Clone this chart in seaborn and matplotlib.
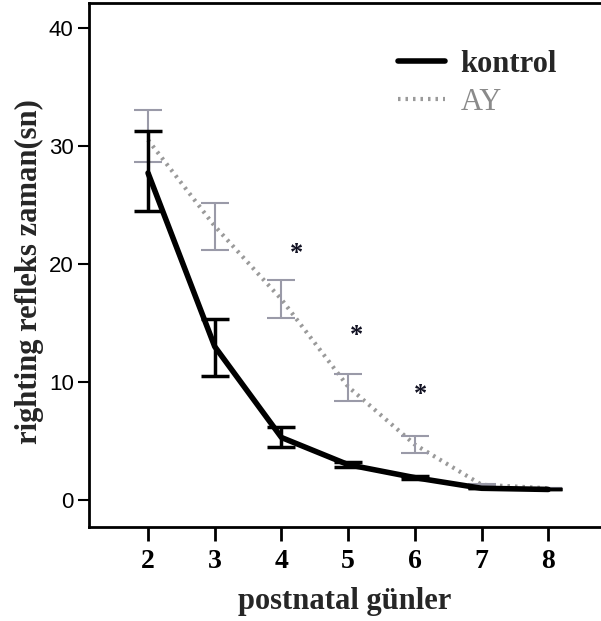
import numpy as np
import pandas as pd
import matplotlib
matplotlib.use("Agg")
import matplotlib.pyplot as plt
import seaborn as sns
from matplotlib.lines import Line2D

days = [2, 3, 4, 5, 6, 7, 8]
kontrol_mean = [27.7, 13.0, 5.3, 3.0, 1.9, 1.0, 0.9]
kontrol_low = [24.5, 10.5, 4.5, 2.8, 1.8, 1.0, 0.9]
kontrol_high = [31.3, 15.3, 6.2, 3.2, 2.0, 1.0, 0.9]
ay_mean = [30.5, 23.2, 17.0, 9.6, 4.7, 1.3, 1.0]
ay_low = [28.6, 21.2, 15.4, 8.4, 4.0, 1.2, 1.0]
ay_high = [33.0, 25.2, 18.6, 10.7, 5.4, 1.4, 1.0]
star_x = [4.22, 5.13, 6.09]
star_y = [20.9, 13.9, 8.9]
yticks = [0, 10, 20, 30, 40]
group_names = ["kontrol", "AY"]

sns.set_style("ticks")

df = pd.DataFrame({
    "gun": days * 2,
    "sure": kontrol_mean + ay_mean,
    "grup": [group_names[0]] * len(days) + [group_names[1]] * len(days),
})

fig = plt.figure(figsize=(6.01, 6.21), dpi=100)
ax = fig.add_axes([89 / 601, 94 / 621, 1 - 89 / 601, (527 - 3) / 621])

sns.lineplot(data=df[df.grup == "AY"], x="gun", y="sure", ax=ax,
             color="#9a9a9a", linewidth=3, linestyle=(0, (0.6, 1.2)),
             legend=False, zorder=2)
sns.lineplot(data=df[df.grup == "kontrol"], x="gun", y="sure", ax=ax,
             color="black", linewidth=4, legend=False, zorder=3)

ay_m = np.array(ay_mean)
ax.errorbar(days, ay_m, yerr=[ay_m - np.array(ay_low), np.array(ay_high) - ay_m],
            fmt="none", ecolor="#9a9aa8", elinewidth=1.5, capsize=10, capthick=1.5, zorder=2)
k_m = np.array(kontrol_mean)
ax.errorbar(days, k_m, yerr=[k_m - np.array(kontrol_low), np.array(kontrol_high) - k_m],
            fmt="none", ecolor="black", elinewidth=2.5, capsize=10, capthick=2.5, zorder=3)

for sx, sy in zip(star_x, star_y):
    ax.text(sx, sy, "*", ha="center", va="center", fontsize=19, fontweight="bold",
            family="Liberation Serif", color="#111122")

ax.set_xlim(1.115, 8.79)
ax.set_ylim(-2.28, 42.1)
ax.set_xticks(days)
ax.set_yticks(yticks)
ax.set_xticklabels([str(d) for d in days], family="Liberation Serif",
                   fontweight="bold", fontsize=20)
ax.set_yticklabels([str(t) for t in yticks], family="Liberation Sans", fontsize=16)
ax.tick_params(axis="x", length=10, width=2, pad=6, colors="black")
ax.tick_params(axis="y", length=8, width=1.5, pad=3, colors="black")

for side in ["left", "bottom", "top"]:
    ax.spines[side].set_linewidth(2)
    ax.spines[side].set_visible(True)
    ax.spines[side].set_color("black")
ax.spines["right"].set_visible(False)

ax.set_xlabel("postnatal günler", family="Liberation Serif", fontweight="bold",
              fontsize=22, labelpad=9)
ax.set_ylabel("righting refleks zaman(sn)", family="Liberation Serif", fontweight="bold",
              fontsize=22)
ax.yaxis.set_label_coords(-0.088, 0.487)

handles = [Line2D([0], [0], color="black", lw=4),
           Line2D([0], [0], color="#9a9a9a", lw=3, linestyle=(0, (0.6, 1.2)))]
leg = ax.legend(handles, group_names, loc="upper left",
                bbox_to_anchor=(398 / 601, 1 - 50 / 621), bbox_transform=fig.transFigure,
                frameon=False, handlelength=1.55, handletextpad=0.5, labelspacing=0.3,
                borderpad=0, borderaxespad=0,
                prop={"family": "Liberation Serif", "size": 22})
leg.get_texts()[0].set_fontweight("bold")
leg.get_texts()[1].set_color("#8a8a8a")

fig.savefig("out.png", dpi=100)
